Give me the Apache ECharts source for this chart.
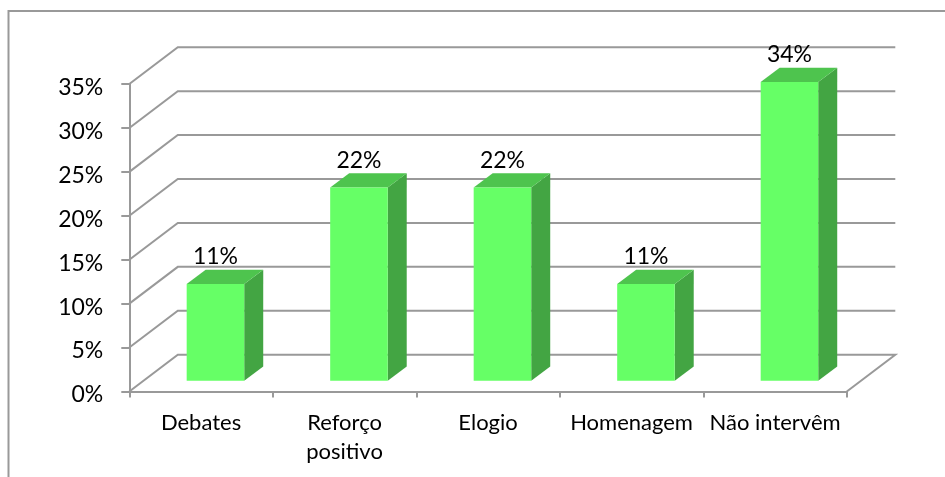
<!DOCTYPE html>
<html>
<head>
<meta charset="utf-8">
<style>html,body{margin:0;padding:0;background:#fff}#c{width:945px;height:477px}</style>
<script src="https://cdn.jsdelivr.net/npm/echarts@6/dist/echarts.min.js"></script>
</head>
<body>
<div id="c"></div>
<script>
const categories = ['Debates', 'Reforço\npositivo', 'Elogio', 'Homenagem', 'Não intervêm'];
const values = [11, 22, 22, 11, 34];
const yTicks = [0, 5, 10, 15, 20, 25, 30, 35];

const FONT = 'Lato';
const GRAY = '#999999';
const INK = '#000';
const WALL = { dx: 48.5, dy: -36.8 };
const BAR = { shiftX: 14.4, shiftY: -10.8, widthRatio: 0.401, dx: 19, dy: -14.2 };

const chart = echarts.init(document.getElementById('c'), null, { renderer: 'canvas' });
chart.setOption({
  animation: false,
  backgroundColor: '#fff',
  grid: { left: 129.3, top: 84, width: 717.5, height: 307.5, containLabel: false },
  xAxis: {
    type: 'category',
    data: categories,
    axisLine: { lineStyle: { color: GRAY, width: 2 } },
    axisTick: { show: true, length: 6, alignWithLabel: false, lineStyle: { color: GRAY, width: 2 } },
    axisLabel: { interval: 0, margin: 17, lineHeight: 29, fontFamily: FONT, fontSize: 22, color: INK }
  },
  yAxis: {
    type: 'value',
    min: 0, max: 35, interval: 5,
    splitLine: { show: false },
    axisLine: { show: true, lineStyle: { color: GRAY, width: 2 } },
    axisTick: { show: true, length: 8, lineStyle: { color: GRAY, width: 2 } },
    axisLabel: {
      formatter: '{t|{value}%}',
      margin: 26,
      rich: { t: { fontFamily: FONT, fontSize: 23, color: INK, padding: [7, 0, 0, 0] } }
    }
  },
  series: [
    {
      type: 'custom',
      coordinateSystem: 'cartesian2d',
      silent: true,
      z: 1,
      data: yTicks.map(t => [0, t]),
      encode: { x: 0, y: 1 },
      renderItem(params, api) {
        const band = api.size([1, 0])[0];
        const y = api.coord([0, api.value(1)])[1];
        const x0 = api.coord([0, 0])[0] - band / 2;
        const x1 = x0 + band * categories.length;
        const pts = [[x0, y], [x0 + WALL.dx, y + WALL.dy], [x1 + WALL.dx, y + WALL.dy]];
        if (api.value(1) === 0) pts.push([x1, y]);
        return {
          type: 'polyline',
          shape: { points: pts },
          style: { fill: null, stroke: GRAY, lineWidth: 2 }
        };
      }
    },
    {
      type: 'custom',
      coordinateSystem: 'cartesian2d',
      silent: true,
      z: 3,
      data: values.map((v, i) => [i, v]),
      encode: { x: 0, y: 1 },
      renderItem(params, api) {
        const band = api.size([1, 0])[0];
        const v = api.value(1);
        const c = api.coord([api.value(0), v]);
        const base = api.coord([api.value(0), 0]);
        const w = band * BAR.widthRatio;
        const l = c[0] + BAR.shiftX - w / 2, r = l + w;
        const t = c[1] + BAR.shiftY, b = base[1] + BAR.shiftY;
        const d = BAR.dx, e = BAR.dy;
        return {
          type: 'group',
          children: [
            { type: 'polygon', shape: { points: [[r, t], [r + d, t + e], [r + d, b + e], [r, b]] }, style: { fill: '#43A543' } },
            { type: 'polygon', shape: { points: [[l, t], [l + d, t + e], [r + d, t + e], [r, t]] }, style: { fill: '#4EC44E' } },
            { type: 'rect', shape: { x: l, y: t, width: w, height: b - t }, style: { fill: '#66FF66' } },
            { type: 'text', x: (l + r) / 2, y: t - 27, style: { text: v + '%', align: 'center', verticalAlign: 'middle', fontFamily: FONT, fontSize: 23, fill: INK } }
          ]
        };
      }
    }
  ],
  graphic: [
    { type: 'polyline', silent: true, shape: { points: [[8.5, 477], [8.5, 11], [945, 11]] }, style: { fill: null, stroke: GRAY, lineWidth: 2 } }
  ]
});
</script>
</body>
</html>
